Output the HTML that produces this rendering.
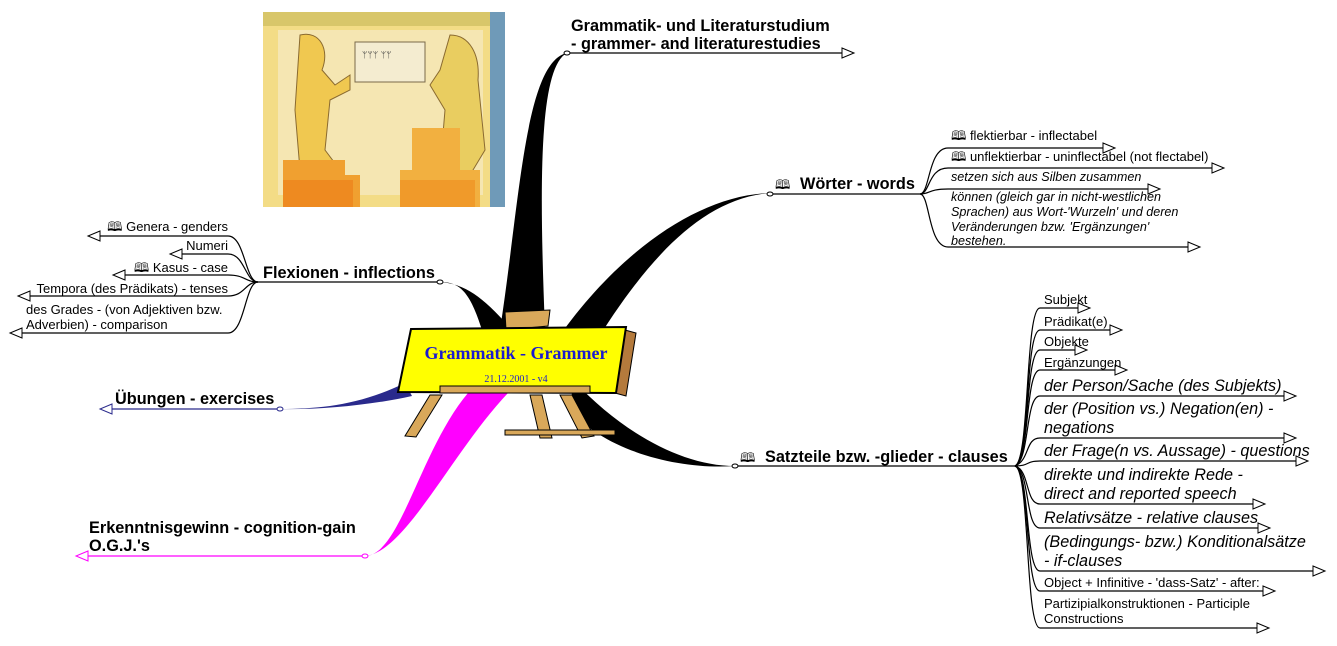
<!DOCTYPE html>
<html><head><meta charset="utf-8"><style>
html,body{margin:0;padding:0;background:#fff;}
svg{display:block;font-family:"Liberation Sans",Arial,sans-serif;}
.s{font-size:13px;fill:#000}
.i{font-size:12.6px;font-style:italic;fill:#000}
.L{font-size:16.2px;font-style:italic;fill:#000}
.b{font-size:16.3px;font-weight:bold;fill:#000}
.ln{stroke:#000;stroke-width:1.2;fill:none}
.ar{fill:#fff;stroke:#000;stroke-width:1}
</style></head><body>
<svg width="1337" height="646" viewBox="0 0 1337 646" xmlns="http://www.w3.org/2000/svg">
<!-- picture -->
<g>
<rect x="263" y="12" width="242" height="195" fill="#f3dc86"/>
<rect x="263" y="12" width="242" height="14" fill="#d8c66a"/>
<rect x="490" y="12" width="15" height="195" fill="#6f9ab8"/>
<rect x="278" y="30" width="205" height="165" fill="#f5e6b2"/>
<path d="M300,35 C320,30 330,50 322,70 L335,85 L350,75 L350,90 L330,100 L325,150 L340,170 L300,170 L295,110 Z" fill="#f0c850" stroke="#8a6a30"/>
<path d="M450,35 C470,35 480,55 478,80 L485,150 L470,175 L440,170 L445,110 L430,85 L440,70 Z" fill="#e9cd60" stroke="#8a6a30"/>
<rect x="355" y="42" width="70" height="40" fill="#f4ecd0" stroke="#7a6a4a"/>
<text x="362" y="58" font-size="9" fill="#333">ᛘᛘᛘ ᛘᛘ</text>
<path d="M283,160 L345,160 L345,175 L360,175 L360,207 L283,207 Z" fill="#f0a030"/>
<path d="M412,128 L460,128 L460,170 L480,170 L480,207 L400,207 L400,170 L412,170 Z" fill="#f2b040"/>
<rect x="283" y="180" width="70" height="27" fill="#ee8a20"/>
<rect x="400" y="180" width="75" height="27" fill="#f09a2a"/>
</g>

<!-- thick branches -->
<path d="M500,330 C520,200 525,62 567,53 C537,68 540,200 545,330 Z" fill="#000"/>
<path d="M558,338 C620,250 700,195 770,193 C700,199 645,262 592,348 Z" fill="#000"/>
<path d="M575,382 C620,430 680,466 735,466 C680,470 605,452 568,408 Z" fill="#000"/>
<path d="M482,330 C470,292 460,282 440,282 C466,284 484,298 512,330 Z" fill="#000"/>
<path d="M405,383 C360,405 320,409 280,409 C320,410 372,405 412,396 Z" fill="#2a2a8c"/>
<path d="M468,393 C420,450 400,556 365,556 C405,553 452,452 508,393 Z" fill="#ff00ff"/>

<!-- central easel -->
<g>
<path d="M505,312 L550,310 L548,326 L506,330 Z" fill="#d9a85a" stroke="#000"/>
<path d="M430,395 L405,436 L416,437 L442,395 Z" fill="#d9a85a" stroke="#000"/>
<path d="M530,395 L540,438 L552,438 L542,395 Z" fill="#d9a85a" stroke="#000"/>
<path d="M560,395 L582,438 L594,436 L572,395 Z" fill="#d9a85a" stroke="#000"/>
<rect x="505" y="430" width="110" height="5" fill="#d9a85a" stroke="#000"/>
<path d="M625,330 L636,333 L626,396 L615,393 Z" fill="#b47a3c" stroke="#000"/>
<path d="M411,329 L626,327 L616,393 L398,392 Z" fill="#ffff00" stroke="#000" stroke-width="2"/>
<rect x="440" y="386" width="150" height="7" fill="#d9a85a" stroke="#000"/>
<text x="516" y="359" text-anchor="middle" font-family="Liberation Serif,serif" font-weight="bold" font-size="18" fill="#1a1ad0">Grammatik - Grammer</text>
<text x="516" y="382" text-anchor="middle" font-family="Liberation Serif,serif" font-size="10" fill="#1a1ad0">21.12.2001 - v4</text>
</g>

<!-- main branch labels -->
<text class="b" x="571" y="31">Grammatik- und Literaturstudium</text>
<text class="b" x="571" y="49">- grammer- and literaturestudies</text>
<line class="ln" x1="567" y1="53" x2="842" y2="53"/>
<polygon class="ar" points="842,48 854,53 842,58"/>
<ellipse cx="567" cy="53" rx="3" ry="2" fill="#fff" stroke="#000"/>

<text class="b" x="800" y="189">Wörter - words</text>
<text class="s" x="775" y="189">🕮</text>
<line class="ln" x1="770" y1="194" x2="920" y2="194"/>
<ellipse cx="770" cy="194" rx="3" ry="2" fill="#fff" stroke="#000"/>

<text class="b" x="765" y="462">Satzteile bzw. -glieder - clauses</text>
<text class="s" x="740" y="462">🕮</text>
<line class="ln" x1="735" y1="466" x2="1015" y2="466"/>
<ellipse cx="735" cy="466" rx="3" ry="2" fill="#fff" stroke="#000"/>

<text class="b" x="263" y="278">Flexionen - inflections</text>
<line class="ln" x1="258" y1="282" x2="440" y2="282"/>
<ellipse cx="440" cy="282" rx="3" ry="2" fill="#fff" stroke="#000"/>

<text class="b" x="115" y="404">Übungen - exercises</text>
<line x1="110" y1="409" x2="280" y2="409" stroke="#2a2a8c" stroke-width="1.2"/>
<polygon points="112,404 100,409 112,414" fill="#fff" stroke="#2a2a8c"/>
<ellipse cx="280" cy="409" rx="3" ry="2" fill="#fff" stroke="#2a2a8c"/>

<text class="b" x="89" y="533">Erkenntnisgewinn - cognition-gain</text>
<text class="b" x="89" y="551">O.G.J.'s</text>
<line x1="87" y1="556" x2="365" y2="556" stroke="#ff00ff" stroke-width="1.2"/>
<polygon points="88,551 76,556 88,561" fill="#fff" stroke="#ff00ff"/>
<ellipse cx="365" cy="556" rx="3" ry="2" fill="#fff" stroke="#ff00ff"/>

<!-- Wörter children -->
<g class="ln">
<path d="M920,194 C930,194 928,148 948,148 L1103,148"/>
<path d="M920,194 C930,194 928,168 948,168 L1212,168"/>
<path d="M920,194 C930,194 928,189 948,189 L1148,189"/>
<path d="M920,194 C930,194 928,247 948,247 L1188,247"/>
</g>
<polygon class="ar" points="1103,143 1115,148 1103,153"/>
<polygon class="ar" points="1212,163 1224,168 1212,173"/>
<polygon class="ar" points="1148,184 1160,189 1148,194"/>
<polygon class="ar" points="1188,242 1200,247 1188,252"/>
<text class="s" x="951" y="140">🕮  flektierbar - inflectabel</text>
<text class="s" x="951" y="161">🕮  unflektierbar - uninflectabel (not flectabel)</text>
<text class="i" x="951" y="181">setzen sich aus Silben zusammen</text>
<text class="i" x="951" y="201">können (gleich gar in nicht-westlichen</text>
<text class="i" x="951" y="216">Sprachen) aus Wort-'Wurzeln' und deren</text>
<text class="i" x="951" y="231">Veränderungen bzw. 'Ergänzungen'</text>
<text class="i" x="951" y="245">bestehen.</text>

<!-- Satzteile children -->
<g class="ln">
<path d="M1015,466 C1030,460 1025,308 1040,308 L1078,308"/>
<path d="M1015,466 C1030,460 1025,330 1040,330 L1110,330"/>
<path d="M1015,466 C1030,460 1025,350 1040,350 L1075,350"/>
<path d="M1015,466 C1030,460 1025,370 1040,370 L1115,370"/>
<path d="M1015,466 C1030,460 1025,396 1040,396 L1284,396"/>
<path d="M1015,466 C1030,460 1025,438 1040,438 L1284,438"/>
<path d="M1015,466 C1030,466 1025,461 1040,461 L1296,461"/>
<path d="M1015,466 C1030,470 1025,504 1040,504 L1253,504"/>
<path d="M1015,466 C1030,470 1025,528 1040,528 L1258,528"/>
<path d="M1015,466 C1030,470 1025,571 1040,571 L1313,571"/>
<path d="M1015,466 C1030,470 1025,591 1040,591 L1263,591"/>
<path d="M1015,466 C1030,470 1025,628 1040,628 L1257,628"/>
</g>
<polygon class="ar" points="1078,303 1090,308 1078,313"/>
<polygon class="ar" points="1110,325 1122,330 1110,335"/>
<polygon class="ar" points="1075,345 1087,350 1075,355"/>
<polygon class="ar" points="1115,365 1127,370 1115,375"/>
<polygon class="ar" points="1284,391 1296,396 1284,401"/>
<polygon class="ar" points="1284,433 1296,438 1284,443"/>
<polygon class="ar" points="1296,456 1308,461 1296,466"/>
<polygon class="ar" points="1253,499 1265,504 1253,509"/>
<polygon class="ar" points="1258,523 1270,528 1258,533"/>
<polygon class="ar" points="1313,566 1325,571 1313,576"/>
<polygon class="ar" points="1263,586 1275,591 1263,596"/>
<polygon class="ar" points="1257,623 1269,628 1257,633"/>
<text class="s" x="1044" y="304">Subjekt</text>
<text class="s" x="1044" y="326">Prädikat(e)</text>
<text class="s" x="1044" y="346">Objekte</text>
<text class="s" x="1044" y="367">Ergänzungen</text>
<text class="L" x="1044" y="391">der Person/Sache (des Subjekts)</text>
<text class="L" x="1044" y="414">der (Position vs.) Negation(en) -</text>
<text class="L" x="1044" y="433">negations</text>
<text class="L" x="1044" y="456">der Frage(n vs. Aussage) - questions</text>
<text class="L" x="1044" y="480">direkte und indirekte Rede -</text>
<text class="L" x="1044" y="499">direct and reported speech</text>
<text class="L" x="1044" y="523">Relativsätze - relative clauses</text>
<text class="L" x="1044" y="547">(Bedingungs- bzw.) Konditionalsätze</text>
<text class="L" x="1044" y="566">- if-clauses</text>
<text class="s" x="1044" y="587">Object + Infinitive - 'dass-Satz' - after:</text>
<text class="s" x="1044" y="608">Partizipialkonstruktionen - Participle</text>
<text class="s" x="1044" y="623">Constructions</text>

<!-- Flexionen children -->
<g class="ln">
<path d="M258,282 C245,282 245,236 228,236 L100,236"/>
<path d="M258,282 C245,282 245,254 228,254 L182,254"/>
<path d="M258,282 C245,282 245,275 228,275 L125,275"/>
<path d="M258,282 C245,282 245,296 228,296 L30,296"/>
<path d="M258,282 C245,282 245,333 228,333 L22,333"/>
</g>
<polygon class="ar" points="100,231 88,236 100,241"/>
<polygon class="ar" points="182,249 170,254 182,259"/>
<polygon class="ar" points="125,270 113,275 125,280"/>
<polygon class="ar" points="30,291 18,296 30,301"/>
<polygon class="ar" points="22,328 10,333 22,338"/>
<text class="s" x="228" y="231" text-anchor="end">🕮  Genera - genders</text>
<text class="s" x="228" y="250" text-anchor="end">Numeri</text>
<text class="s" x="228" y="272" text-anchor="end">🕮  Kasus - case</text>
<text class="s" x="228" y="293" text-anchor="end">Tempora (des Prädikats) - tenses</text>
<text class="s" x="26" y="314">des Grades - (von Adjektiven bzw.</text>
<text class="s" x="26" y="329">Adverbien) - comparison</text>
</svg>
</body></html>
